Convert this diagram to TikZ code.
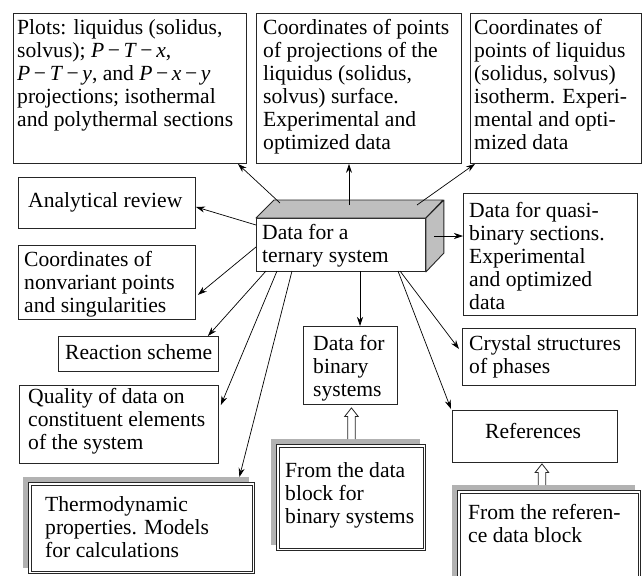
\documentclass[tikz,border=0pt]{standalone}
\usepackage{fontspec}
\setmainfont{Liberation Serif}
\usetikzlibrary{calc,arrows.meta}
\newcommand\ml[1]{\begin{tabular}[t]{@{}l@{}}#1\end{tabular}}
\newcommand\hollowarrow[2]{\draw[hollow] let \p1=(#1), \p2=(#2) in
  (\x1-3.8pt,\y1) -- (\x1-3.8pt,\y2-8.5pt) -- (\x1-6.7pt,\y2-8.5pt) -- (\x1,\y2)
  -- (\x1+6.7pt,\y2-8.5pt) -- (\x1+3.8pt,\y2-8.5pt) -- (\x1+3.8pt,\y1);}
\newcommand\innerframe[1]{\draw[frame] ($(#1.north west)+(3,3)$) rectangle ($(#1.south east)+(-3,-3)$);}
\begin{document}
\begin{tikzpicture}[x=1pt,y=-1pt,
  box/.style={draw=black!85, line width=0.9pt, fill=white, inner sep=0pt, anchor=north west},
  frame/.style={draw=black!85, line width=0.8pt},
  shbox/.style={fill=black!30, inner sep=0pt, anchor=north west},
  txt/.style={anchor=base west, inner sep=0pt, font=\fontsize{21.6pt}{23pt}\selectfont},
  conn/.style={draw=black, line width=0.7pt, -{Stealth[length=9pt,width=6pt]}},
  face/.style={draw=black!85, line width=0.9pt, fill=black!25, line join=round},
  hollow/.style={draw=black!85, line width=0.8pt, fill=white}
]
\useasboundingbox (0,0) rectangle (643,576);
\fill[white] (0,0) rectangle (643,576);

% top boxes
\node[box, minimum width=233pt, minimum height=150pt] (b1) at (13,13) {};
\node[txt] (b1t) at (17,34) {\ml{Plots: liquidus (solidus,\\
  solvus); \textit{P}\,−\,\textit{T}\,−\,\textit{x},\\
  \textit{P}\,−\,\textit{T}\,−\,\textit{y}, and \textit{P}\,−\,\textit{x}\,−\,\textit{y}\\
  projections; isothermal\\ and polythermal sections}};

\node[box, minimum width=205pt, minimum height=150pt] (b2) at (256,13) {};
\node[txt] (b2t) at (263,34) {\ml{Coordinates of points\\ of projections of the\\
  liquidus (solidus,\\ solvus) surface.\\ Experimental and\\ optimized data}};

\node[box, minimum width=171pt, minimum height=150pt] (b3) at (470,13) {};
\node[txt] (b3t) at (474,34) {\ml{Coordinates of\\ points of liquidus\\
  (solidus, solvus)\\ isotherm. Experi-\\ mental and opti-\\ mized data}};

% left column
\node[box, minimum width=177pt, minimum height=51pt] (ar) at (18,177) {};
\node[txt] (art) at (28,207) {Analytical review};

\node[box, minimum width=177pt, minimum height=74pt] (cn) at (18,245) {};
\node[txt] (cnt) at (24,266) {\ml{Coordinates of\\ nonvariant points\\ and singularities}};

\node[box, minimum width=160pt, minimum height=35pt] (rs) at (58,336) {};
\node[txt] (rst) at (65,359) {Reaction scheme};

\node[box, minimum width=199pt, minimum height=78pt] (qd) at (19,385) {};
\node[txt] (qdt) at (28,403) {\ml{Quality of data on\\ constituent elements\\ of the system}};

\node[shbox, minimum width=226pt, minimum height=91pt] (thsh) at (23,477) {};
\node[box, minimum width=226pt, minimum height=91pt] (th) at (28,482) {};
\innerframe{th}
\node[txt] (tht) at (45,511) {\ml{Thermodynamic\\ properties. Models\\ for calculations}};

% middle
\node[box, minimum width=94pt, minimum height=78pt] (bs) at (303,326) {};
\node[txt] (bst) at (313,350) {\ml{Data for\\ binary\\ systems}};

\node[shbox, minimum width=149pt, minimum height=106pt] (fbsh) at (271,439) {};
\node[box, minimum width=149pt, minimum height=106pt] (fb) at (276,444) {};
\innerframe{fb}
\node[txt] (fbt) at (285,477) {\ml{From the data\\ block for\\ binary systems}};

% right column
\node[box, minimum width=174pt, minimum height=122pt] (qb) at (463,193) {};
\node[txt] (qbt) at (469,217) {\ml{Data for quasi-\\ binary sections.\\ Experimental\\ and optimized\\ data}};

\node[box, minimum width=173pt, minimum height=57pt] (cs) at (462,328) {};
\node[txt] (cst) at (469,350) {\ml{Crystal structures\\ of phases}};

\node[box, minimum width=165pt, minimum height=52pt] (rf) at (452,410) {};
\node[txt] (rft) at (485,438) {References};

\node[shbox, minimum width=183pt, minimum height=100pt] (frsh) at (452,485) {};
\node[box, minimum width=183pt, minimum height=100pt] (fr) at (457,490) {};
\innerframe{fr}
\node[txt] (frt) at (468,519) {\ml{From the referen-\\ ce data block}};

% central 3D box
\node[box, minimum width=169pt, minimum height=53pt] (cb) at (256,218) {};
\draw[face] (cb.north west) -- ++(18,-18) -- ++(169,0) -- (cb.north east) -- cycle;
\draw[face] (cb.north east) -- ++(18,-18) -- ++(0,53) -- (cb.south east) -- cycle;
\node[txt] (cbt) at (262,239) {\ml{Data for a\\ ternary system}};

% connector start points
\coordinate (s1) at (280,203);
\coordinate (s2) at (349,205);
\coordinate (s3) at (417,205);
\coordinate (s4) at (256,225);
\coordinate (s5) at (256,247);
\coordinate (s6) at (266,271);
\coordinate (s7) at (277,271);
\coordinate (s8) at (292,271);
\coordinate (s9) at (360,271);
\coordinate (s10) at (400,271);
\coordinate (s11) at (398,271);
\coordinate (s12) at (434,236);

\draw[conn] (s1) -- ($(b1.south east)+(-9,0)$);
\draw[conn] (s2) -- (s2 |- b2.south);
\draw[conn] (s3) -- ($(b3.south west)+(5,0)$);
\draw[conn] (s4) -- ($(ar.east)+(0,4)$);
\draw[conn] (s5) -- ($(cn.south east)+(2,-25)$);
\draw[conn] (s6) -- ($(rs.north east)+(-11,0)$);
\draw[conn] (s7) -- ($(qd.north east)+(2,20)$);
\draw[conn] (s8) -- ($(thsh.north east)+(-10,0)$);
\draw[conn] (s9) -- (s9 |- bs.north);
\draw[conn] (s10) -- ($(cs.north west)+(-3,21)$);
\draw[conn] (s11) -- ($(rf.north west)+(-1,-1)$);
\draw[conn] (s12) -- (s12 -| qb.west);

% hollow arrows
\coordinate (h1b) at ($(bs.south)+(1,3)$);
\coordinate (h1a) at (h1b |- fbsh.north);
\hollowarrow{h1a}{h1b}
\coordinate (h2b) at ($(rf.south)+(7,1)$);
\coordinate (h2a) at (h2b |- frsh.north);
\hollowarrow{h2a}{h2b}
\end{tikzpicture}
\end{document}
